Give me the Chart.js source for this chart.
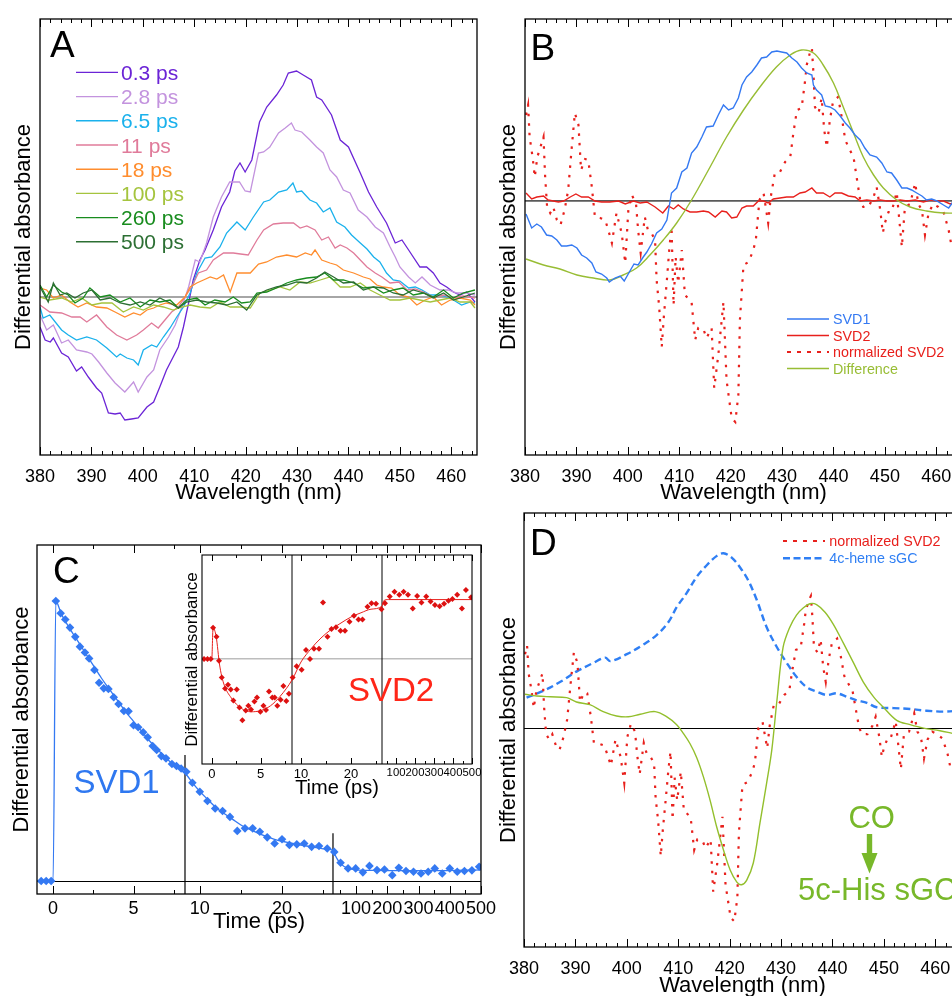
<!DOCTYPE html>
<html>
<head>
<meta charset="utf-8">
<title>Transient absorption spectra and SVD components</title>
<script src="https://cdn.jsdelivr.net/npm/chart.js@4.4.1/dist/chart.umd.min.js"></script>
<style>
  html, body { margin: 0; padding: 0; background: #fff; }
  body { position: relative; width: 952px; height: 996px; overflow: hidden; font-family: "Liberation Sans", Arial, sans-serif; }
  canvas { position: absolute; }
  #overlay { position: absolute; left: 0; top: 0; }
</style>
</head>
<body>
<canvas id="chartA" width="490" height="510" style="left:0px;top:0px"></canvas>
<canvas id="chartB" width="482" height="510" style="left:490px;top:0px"></canvas>
<canvas id="chartC" width="500" height="450" style="left:0px;top:500px"></canvas>
<canvas id="chartCin" width="320" height="260" style="left:170px;top:545px"></canvas>
<canvas id="chartD" width="481" height="500" style="left:490px;top:500px"></canvas>
<svg id="overlay" width="952" height="996" xmlns="http://www.w3.org/2000/svg"></svg>
<script>
// ---- panel A: spectra at different delays [wavelength nm, dA] ----
const spectraLabels = ['0.3 ps', '2.8 ps', '6.5 ps', '11 ps', '18 ps', '100 ps', '260 ps', '500 ps'];

const spec03 = [[380,-0.30],[381,-0.43],[382,-0.45],[382.6,-0.41],[384.2,-0.56],[385.5,-0.60],[387.1,-0.74],[388.1,-0.70],[389.4,-0.80],[391,-0.91],[392,-0.96],[393.3,-1.16],[394.6,-1.17],[395.6,-1.16],[396.5,-1.23],[397.8,-1.22],[399.1,-1.21],[400.8,-1.10],[402.1,-1.05],[403.3,-0.90],[404.6,-0.73],[405.9,-0.60],[406.9,-0.50],[407.9,-0.30],[408.9,-0.06],[409.8,0.17],[411.1,0.37],[412.1,0.47],[413.7,0.67],[415.3,0.90],[416.9,1.05],[417.9,1.26],[418.9,1.34],[419.9,1.25],[421.2,1.37],[422.7,1.75],[424.1,1.90],[426,2.02],[427.3,2.12],[428.3,2.24],[429.9,2.26],[431.2,2.22],[432.8,2.17],[433.8,2.00],[434.8,1.97],[436.7,1.82],[438.4,1.57],[440,1.50],[442.3,1.24],[443.9,1.05],[445.5,0.90],[447.4,0.74],[449.1,0.54],[450.4,0.57],[451.7,0.47],[453.9,0.30],[455.2,0.30],[456.5,0.24],[457.8,0.14],[459.1,0.10],[460.4,0.05],[461.7,0.02],[463,0.05],[464.6,-0.05]];
const spec28 = [[380,-0.18],[381.3,-0.33],[382.6,-0.28],[384.2,-0.46],[385.5,-0.43],[387.1,-0.53],[389.1,-0.55],[390.1,-0.57],[391.4,-0.65],[393,-0.76],[394.6,-0.86],[396.5,-0.95],[398.2,-0.85],[399.1,-0.95],[400.8,-0.80],[402.1,-0.73],[403.3,-0.53],[405,-0.40],[406.3,-0.28],[407.6,-0.10],[408.9,0.10],[410.2,0.37],[411.1,0.35],[412.4,0.54],[413.7,0.80],[415.3,1.00],[416.9,1.15],[418.8,1.15],[419.9,1.06],[420.9,1.05],[422.5,1.44],[423.5,1.45],[424.7,1.50],[426.4,1.64],[427.7,1.69],[428.9,1.74],[429.6,1.67],[430.9,1.65],[432.5,1.57],[433.8,1.50],[435.1,1.44],[436.4,1.27],[437.7,1.20],[439,1.07],[440.3,1.04],[441.9,0.87],[443.6,0.80],[445.2,0.70],[446.8,0.64],[448.1,0.50],[449.1,0.40],[450,0.30],[451.7,0.20],[453,0.14],[454.3,0.20],[455.9,0.12],[457.8,0.07],[459.4,0.07],[461.1,0.04],[463,0.04],[464.6,0.02]];
const spec65 = [[380,-0.10],[380.6,-0.21],[381.9,-0.18],[384.2,-0.33],[385.5,-0.38],[387.1,-0.43],[389.1,-0.40],[391,-0.43],[393,-0.51],[394.9,-0.60],[395.6,-0.57],[396.9,-0.61],[398.2,-0.63],[399.1,-0.68],[400.1,-0.53],[401.7,-0.48],[402.7,-0.50],[404,-0.40],[405.3,-0.31],[406.6,-0.20],[407.9,-0.10],[409.2,0.04],[410.5,0.24],[412.1,0.39],[413.4,0.40],[415,0.50],[416.3,0.64],[418.3,0.75],[419.9,0.67],[421.5,0.80],[423.5,0.95],[424.7,0.97],[426.4,1.05],[428,1.07],[429.2,1.14],[429.9,1.05],[430.9,1.06],[432.5,0.97],[433.8,0.94],[435.1,0.85],[436.4,0.89],[437.7,0.75],[439.3,0.70],[440.6,0.62],[442.3,0.54],[443.6,0.48],[444.9,0.40],[446.1,0.35],[447.4,0.24],[448.7,0.17],[450,0.16],[451.7,0.09],[453,0.10],[454.3,0.07],[455.9,0.02],[457.8,0.02],[459.8,-0.01],[462,-0.08],[463.7,-0.05],[464.6,-0.06]];
const spec11 = [[380,-0.08],[381.9,-0.15],[384.2,-0.16],[386.2,-0.20],[387.8,-0.20],[389.1,-0.25],[391,-0.18],[393,-0.30],[394.9,-0.38],[396.9,-0.43],[398.8,-0.38],[400.1,-0.33],[401.7,-0.26],[403,-0.31],[404.3,-0.23],[405.6,-0.15],[406.9,-0.10],[408.2,0.00],[409.5,0.10],[410.8,0.24],[412.4,0.27],[413.7,0.37],[415.7,0.44],[417.6,0.44],[419,0.43],[420.5,0.42],[422.2,0.57],[423.5,0.67],[425.4,0.73],[427.3,0.74],[429.3,0.74],[430.6,0.69],[431.9,0.71],[433.5,0.67],[434.8,0.57],[436.1,0.60],[437.4,0.49],[438.4,0.52],[439.7,0.49],[441,0.44],[442.3,0.37],[443.6,0.30],[445.2,0.24],[446.5,0.20],[448.1,0.14],[449.8,0.15],[451.4,0.07],[453,0.08],[454.6,0.05],[456.5,0.00],[458.5,0.02],[460.4,-0.01],[462.3,0.01],[464.6,-0.01]];
const spec18 = [[380,0.09],[381.3,0.07],[382.6,-0.01],[384.2,0.02],[385.8,-0.05],[387.4,-0.10],[389.1,-0.06],[391,-0.10],[393,-0.11],[394.6,-0.15],[396.5,-0.20],[398.2,-0.16],[399.5,-0.18],[400.8,-0.13],[402.1,-0.11],[403.3,-0.08],[404.6,-0.06],[406.6,-0.08],[408.2,0.00],[409.2,0.10],[410.5,0.14],[411.8,0.17],[413.1,0.20],[414.4,0.18],[415.7,0.22],[417,0.05],[418.3,0.24],[419.6,0.24],[420.9,0.24],[422.5,0.33],[424.1,0.35],[426,0.40],[428,0.42],[429.9,0.40],[431.6,0.44],[432.8,0.42],[433.5,0.47],[434.8,0.37],[436.4,0.34],[437.7,0.32],[439,0.27],[441,0.24],[442.9,0.20],[444.2,0.18],[445.5,0.12],[446.8,0.10],[448.4,0.09],[450,0.02],[451.7,0.00],[453.3,-0.08],[454.9,-0.03],[456.5,0.00],[458.1,-0.08],[459.8,-0.03],[461.7,-0.01],[463.7,-0.03],[464.6,-0.08]];
const spec100 = [[380,0.00],[381.9,-0.03],[384.2,-0.01],[386.2,-0.05],[388.1,-0.01],[390.1,-0.08],[392,-0.06],[394,-0.06],[396.2,-0.15],[398.2,-0.10],[400.1,-0.13],[402.1,-0.08],[404,-0.10],[405.9,-0.13],[407.6,-0.10],[409.2,-0.08],[411.1,-0.10],[413.1,-0.11],[415,-0.05],[417,-0.10],[418.9,-0.10],[420.9,-0.11],[422.8,0.04],[424.7,0.07],[426.7,0.10],[428.6,0.07],[430.6,0.15],[432.5,0.14],[434.5,0.17],[436.4,0.20],[438.4,0.10],[440.3,0.10],[442.3,0.14],[444.2,0.07],[446.1,0.02],[448.1,-0.03],[450,-0.03],[452,-0.01],[453.9,-0.03],[455.9,-0.05],[457.8,-0.03],[459.8,-0.01],[461.7,-0.05],[463.7,-0.05],[464.6,-0.11]];
const spec260 = [[380,0.12],[381.3,0.00],[382.6,0.12],[384.2,0.05],[385.5,0.02],[386.8,-0.06],[388.4,-0.01],[389.7,0.09],[391.7,0.00],[393.6,0.02],[395.6,-0.05],[397.5,-0.01],[399.5,-0.10],[401.4,-0.03],[403.3,-0.05],[405.3,-0.03],[406.9,-0.11],[408.5,-0.03],[410.5,-0.01],[412.1,-0.08],[414,-0.03],[416,-0.05],[417.6,0.00],[419.2,-0.06],[420.9,-0.05],[422.2,0.04],[424.1,0.05],[426,0.09],[428,0.14],[429.9,0.17],[431.9,0.19],[433.8,0.20],[435.4,0.24],[437.1,0.17],[439,0.17],[441,0.14],[442.9,0.09],[444.9,0.10],[446.8,0.04],[448.7,0.07],[450.6,0.09],[452.6,0.02],[454.6,0.04],[456.5,0.00],[458.5,0.07],[460.4,-0.01],[462.3,0.04],[464.6,0.07]];
const spec500 = [[380,0.10],[381.6,-0.05],[382.6,0.14],[383.9,0.02],[385.2,0.04],[386.8,-0.01],[388.4,0.04],[390.1,0.07],[391.7,-0.03],[393.6,-0.01],[395.6,-0.06],[397.5,-0.08],[399.5,-0.05],[401.4,-0.08],[403.3,-0.01],[405.3,-0.06],[406.9,-0.11],[408.5,-0.05],[410.5,-0.03],[412.4,-0.05],[414.4,-0.06],[416.3,-0.08],[418.3,-0.05],[420.2,-0.13],[422.2,0.02],[424.1,0.07],[426,0.10],[428,0.12],[429.9,0.15],[431.9,0.14],[433.8,0.19],[435.4,0.25],[437.1,0.20],[439,0.14],[441,0.15],[442.9,0.07],[444.9,0.10],[446.8,0.09],[448.7,0.04],[450.6,0.02],[452.6,0.07],[454.6,0.04],[456.5,-0.01],[458.5,0.04],[460.4,-0.03],[462.3,0.00],[464.6,0.04]];

// ---- panel B: SVD components [wavelength nm, dA] ----
const svdLegendB = ['SVD1', 'SVD2', 'normalized SVD2', 'Difference'];
const svd1B = [[380.2,-0.13],[381.3,-0.27],[382.3,-0.23],[383.2,-0.26],[384.2,-0.34],[385.2,-0.35],[386.2,-0.39],[387.1,-0.45],[388.1,-0.45],[389.1,-0.44],[390.1,-0.47],[391,-0.54],[392,-0.57],[393,-0.62],[393.8,-0.71],[394.9,-0.73],[395.9,-0.77],[396.4,-0.81],[397.5,-0.77],[398.5,-0.75],[399.3,-0.80],[400.3,-0.71],[401.2,-0.63],[402,-0.64],[403,-0.56],[403.7,-0.51],[404.6,-0.43],[405.6,-0.32],[406.6,-0.28],[407.6,-0.19],[408.5,0.08],[409.5,0.13],[410.5,0.29],[411.5,0.33],[412.4,0.48],[413.4,0.54],[414.4,0.64],[415.3,0.74],[416.6,0.75],[417.6,0.86],[418.6,0.96],[419.6,0.91],[420.5,0.93],[421.5,1.03],[422.2,1.16],[423.1,1.24],[424.1,1.29],[425.1,1.36],[426,1.43],[427,1.44],[428,1.49],[429,1.50],[429.9,1.49],[430.9,1.48],[431.9,1.43],[432.9,1.39],[433.8,1.33],[434.8,1.28],[435.8,1.26],[436.1,1.16],[436.7,1.11],[437.7,1.06],[438.4,0.95],[439.3,0.94],[440.3,0.91],[441.3,0.85],[442.3,0.78],[443.2,0.73],[444.2,0.66],[445.2,0.61],[446.1,0.53],[447.1,0.46],[448.4,0.44],[449.4,0.38],[450.4,0.29],[451.3,0.28],[452.3,0.21],[453.3,0.13],[454.3,0.13],[455.2,0.11],[456.2,0.08],[457.2,0.05],[458.1,0.01],[459.1,0.02],[460.1,0.00],[461.4,-0.04],[462.4,-0.07],[463.1,-0.02],[464.5,-0.08]];
const svd2B = [[380.2,0.08],[381.3,0.02],[382.3,0.04],[383.6,0.05],[384.5,0.01],[385.5,0.00],[386.5,-0.01],[387.5,0.00],[388.8,0.04],[389.9,0.07],[391,0.04],[392.3,0.04],[393.6,0.00],[394.9,-0.01],[396.5,-0.01],[398.2,0.00],[399.5,-0.03],[401.1,0.00],[402.4,-0.02],[403.7,-0.01],[405.3,-0.06],[406.8,-0.12],[407.9,-0.05],[408.9,-0.08],[409.8,-0.04],[410.8,-0.08],[412.1,-0.11],[413.4,-0.11],[414.7,-0.10],[415.7,-0.11],[417,-0.16],[418.3,-0.10],[419.2,-0.11],[420.2,-0.17],[421.2,-0.16],[422.2,-0.07],[423.1,-0.05],[424.4,-0.05],[425.4,0.00],[426.4,0.00],[427.3,-0.02],[428.3,0.02],[429.6,0.03],[430.9,0.04],[432.2,0.04],[433.5,0.08],[434.5,0.09],[435.8,0.13],[436.7,0.08],[438,0.08],[439.3,0.04],[440.3,0.08],[441.6,0.08],[442.9,0.05],[444.2,0.04],[445.2,0.00],[446.5,0.01],[447.8,0.00],[449.1,0.01],[450.4,0.00],[451.7,0.00],[453,0.01],[454.3,0.00],[455.9,0.01],[457.5,-0.01],[458.8,0.01],[460.1,0.00],[461.4,0.00],[462.7,-0.03],[464.5,0.00]];
const normSvd2 = [[380.2,0.86],[380.6,0.96],[380.9,0.64],[381.5,0.43],[381.9,0.24],[382.4,0.44],[383,0.54],[383.6,0.64],[383.9,0.26],[384.3,-0.06],[384.9,-0.12],[385.5,-0.06],[386.2,-0.19],[386.9,-0.24],[387.7,-0.09],[388.4,0.11],[389.1,0.54],[389.7,0.88],[390.4,0.76],[390.9,0.31],[391.7,0.42],[392.3,0.41],[393,0.14],[393.6,-0.16],[394.6,-0.17],[395.6,-0.19],[396.2,-0.29],[396.9,-0.42],[397.8,-0.12],[398.8,-0.32],[399.5,-0.62],[400.1,-0.09],[400.8,0.06],[401.6,-0.03],[402,-0.29],[402.5,-0.52],[403.3,-0.16],[403.9,-0.29],[404.6,-0.32],[405.3,-0.39],[405.6,-0.79],[406.1,-1.06],[406.6,-1.46],[407,-1.16],[407.6,-0.79],[408.1,-0.46],[408.5,-0.26],[408.9,-1.04],[409.3,-0.56],[409.8,-0.82],[410.5,-0.49],[411.1,-0.94],[412.4,-1.01],[413.1,-1.39],[413.7,-1.27],[414.7,-1.28],[415.3,-1.37],[416.3,-1.27],[416.8,-1.87],[417.6,-1.54],[418.6,-1.01],[419.2,-1.79],[420.2,-2.17],[420.9,-2.21],[421.5,-1.94],[421.8,-1.19],[422.5,-0.64],[423.5,-0.61],[424.4,-0.49],[424.9,-0.39],[425.6,0.01],[426.4,0.08],[427.3,-0.22],[427.8,0.04],[428.6,0.28],[429.6,0.29],[430.6,0.39],[431.6,0.44],[432.2,0.68],[432.9,0.91],[433.8,0.93],[434.5,1.21],[434.8,1.36],[435.4,1.48],[435.8,1.53],[436.1,1.28],[436.4,0.94],[437.1,0.88],[437.7,1.03],[438.2,0.71],[438.7,0.54],[439.3,0.81],[439.9,0.99],[440.9,1.04],[441.6,0.84],[442.3,0.61],[442.9,0.54],[443.9,0.44],[444.5,0.24],[445.2,0.01],[445.8,-0.06],[446.8,-0.06],[447.8,0.04],[448.4,0.14],[449.1,-0.09],[449.6,-0.32],[450,-0.22],[450.7,-0.11],[451.3,-0.11],[452.3,0.09],[453.3,-0.46],[453.9,-0.06],[454.9,-0.03],[455.9,0.18],[456.5,-0.03],[457.2,-0.09],[457.8,-0.34],[458.5,-0.12],[459.4,-0.03],[460.4,-0.06],[461.4,-0.11],[462.4,-0.29],[463,-0.46]];
const diffB = [[380.2,-0.58],[383.6,-0.64],[386.8,-0.68],[390.1,-0.74],[393.3,-0.77],[396.5,-0.79],[399.1,-0.74],[401.7,-0.67],[404.3,-0.54],[406.9,-0.39],[409.5,-0.22],[412.4,0.01],[416,0.34],[419.2,0.64],[422.5,0.91],[425.7,1.14],[428.9,1.34],[431.6,1.46],[433.8,1.51],[436.1,1.48],[438,1.36],[440,1.18],[441.9,0.94],[443.9,0.68],[445.8,0.44],[447.8,0.26],[449.7,0.13],[452.3,0.01],[454.9,-0.06],[458.1,-0.10],[461.4,-0.12],[464.5,-0.12]];

// ---- panel C: kinetics [time ps, amplitude] ----
const timeTicks = [0, 2.5, 5, 7.5, 10, 15, 20, 25, 50, 100, 150, 200, 250, 300, 350, 400, 450, 500];
const timeLabels = [0, 5, 10, 20, 100, 200, 300, 400, 500];
const timeBreaks = [-1, 8.2, 26.2, 500];
const svd1Pts = [[-0.74,0],[-0.43,0],[-0.12,0],[0.17,1.0],[0.47,0.956],[0.76,0.934],[1.05,0.905],[1.38,0.872],[1.67,0.837],[1.98,0.816],[2.24,0.795],[2.57,0.754],[2.86,0.708],[3.15,0.688],[3.44,0.686],[3.77,0.656],[4.07,0.632],[4.4,0.607],[4.69,0.606],[5,0.556],[5.29,0.549],[5.6,0.531],[5.88,0.513],[6.19,0.482],[6.44,0.468],[6.73,0.446],[7.02,0.438],[7.39,0.418],[7.67,0.411],[7.96,0.402],[8.36,0.39],[9.1,0.351],[10,0.319],[10.93,0.286],[11.87,0.259],[12.77,0.25],[13.67,0.229],[14.56,0.179],[15.5,0.188],[16.43,0.188],[17.3,0.176],[18.2,0.156],[19.1,0.134],[20,0.149],[20.9,0.129],[21.8,0.131],[22.7,0.134],[23.6,0.122],[24.5,0.125],[25.5,0.116],[30.3,0.104],[50.5,0.065],[74.5,0.045],[98.8,0.045],[121.9,0.031],[143,0.054],[167,0.039],[191,0.041],[216,0.021],[237,0.047],[260,0.036],[284,0.033],[308,0.027],[331,0.033],[352,0.045],[376,0.027],[400,0.045],[424,0.033],[447,0.036],[471,0.038],[494,0.051]];
const svd1Fit = [[-1,0],[0,0],[0.17,1.0],[0.5,0.955],[1,0.905],[1.5,0.86],[2,0.815],[2.5,0.77],[3,0.725],[3.5,0.685],[4,0.645],[4.5,0.605],[5,0.57],[5.5,0.535],[6,0.5],[6.5,0.47],[7,0.44],[7.5,0.415],[8,0.395],[8.5,0.375],[9,0.355],[10,0.32],[11,0.29],[12,0.262],[13,0.24],[14,0.22],[15,0.2],[16,0.185],[17,0.172],[18,0.16],[19,0.15],[20,0.142],[21,0.136],[22,0.13],[23,0.125],[24,0.12],[25,0.115],[26.2,0.11],[30,0.1],[40,0.078],[50,0.062],[75,0.045],[100,0.04],[150,0.038],[250,0.037],[350,0.037],[500,0.04]];
const breakLineC1 = [[8.2,-0.1],[8.2,0.45]];
const breakLineC2 = [[26.2,-0.1],[26.2,0.171]];
const svd2Pts = [[-0.79,0],[-0.44,0],[-0.1,0],[0.13,0.52],[0.48,0.37],[0.74,-0.03],[1.02,-0.31],[1.36,-0.49],[1.66,-0.43],[1.94,-0.51],[2.21,-0.69],[2.55,-0.51],[2.83,-0.81],[3.13,-1.02],[3.47,-0.86],[3.74,-0.78],[4.01,-0.84],[4.36,-0.71],[4.62,-0.64],[4.97,-0.88],[5.28,-0.78],[5.54,-0.85],[5.85,-0.54],[6.19,-0.64],[6.43,-0.64],[6.7,-0.78],[7.04,-0.68],[7.32,-0.45],[7.62,-0.7],[7.89,-0.58],[8.33,-0.31],[9.13,-0.12],[10.13,-0.18],[11,0.15],[11.8,0],[12.6,0.17],[13.6,0.17],[14.4,0.94],[15.3,0.37],[16.1,0.5],[17,0.53],[17.9,0.47],[18.8,0.47],[19.7,0.62],[20.6,0.72],[21.5,0.66],[22.3,0.66],[23.3,0.87],[24.1,0.93],[25,0.92],[26.1,0.83],[42,0.93],[67,1.04],[92,1.12],[117,1.07],[140,1.12],[163,1.07],[188,0.84],[211,1.05],[234,0.94],[259,1.04],[282,0.96],[305,0.9],[330,0.88],[353,0.92],[376,0.97],[397,1.0],[422,1.07],[447,0.84],[468,1.15],[495,1.03]];
const svd2Fit = [[-1,0],[0,0],[0.13,0.52],[0.45,0.37],[0.8,-0.1],[1.2,-0.4],[2,-0.65],[3,-0.82],[4,-0.88],[5,-0.86],[6,-0.78],[7,-0.62],[8.2,-0.35],[10,-0.05],[12,0.17],[14,0.35],[16,0.49],[18,0.6],[20,0.7],[22,0.77],[24,0.83],[26.2,0.88],[35,0.97],[60,0.99],[500,0.99]];
const breakLineIn1 = [[8.2,-2],[8.2,2]];
const breakLineIn2 = [[26.2,-2],[26.2,2]];

// ---- panel D: comparison [wavelength nm, dA] ----
const legendD = ['normalized SVD2', '4c-heme sGC'];
const hemeD = [[380.5,0.36],[383.8,0.44],[387,0.54],[390.2,0.66],[393.5,0.76],[395.8,0.82],[396.8,0.78],[400,0.86],[403.2,0.97],[405.8,1.08],[408.1,1.23],[409.7,1.40],[411.6,1.56],[413.6,1.75],[415.5,1.88],[417.5,1.99],[418.8,2.02],[420.4,1.97],[422,1.86],[423.6,1.71],[425.3,1.48],[427.2,1.17],[429.2,0.94],[431.1,0.76],[433,0.60],[435,0.48],[436.9,0.43],[438.9,0.39],[440.8,0.41],[442.8,0.37],[444.7,0.33],[446.7,0.30],[448.6,0.25],[451.9,0.24],[455.1,0.23],[458.3,0.21],[461.6,0.20],[464.5,0.21]];
const diffD = [[380.2,0.40],[382.5,0.38],[385.1,0.37],[388.3,0.36],[390.2,0.31],[392.8,0.28],[395.4,0.20],[398,0.15],[400.3,0.14],[402.6,0.17],[405.5,0.20],[407.8,0.14],[409.7,0.05],[411,-0.05],[412.3,-0.17],[413.6,-0.33],[414.9,-0.55],[416.2,-0.82],[417.5,-1.13],[418.8,-1.39],[420.1,-1.62],[421.4,-1.76],[422.3,-1.79],[423.3,-1.74],[424.6,-1.54],[425.9,-1.08],[427.2,-0.62],[428.2,-0.24],[429.2,0.33],[430.4,0.94],[431.7,1.17],[433,1.31],[434.3,1.39],[435.6,1.44],[436.9,1.43],[438.6,1.34],[440.2,1.20],[442.1,0.99],[444.1,0.76],[446,0.54],[448,0.37],[449.9,0.25],[452.5,0.10],[455.1,0.05],[457.7,0.01],[460.9,-0.02],[463.3,-0.05]];

// ---- styling ----
const FONT = '"Liberation Sans", Arial, sans-serif';
const spectraColors = ['#6b24d6', '#c393de', '#1ab1ec', '#e07b9a', '#ff8d2e', '#a5c43e', '#188c1e', '#2c6f33'];
const BLUE = '#3479f2';
const RED = '#e8201c';
const GREEN = '#98bd34';
const DOTS = [2.5, 7];

Chart.defaults.font.family = FONT;
Chart.defaults.color = '#000';

// piecewise linear time axis: every segment between breaks gets the same width
class BrokenScale extends Chart.LinearScale {
  buildTicks() {
    return this.options.tickValues.map(value => ({ value }));
  }
  toDecimal(value) {
    const b = this.options.breaks;
    const n = b.length - 1;
    let i = 0;
    while (i < n - 1 && value > b[i + 1]) i++;
    return (i + (value - b[i]) / (b[i + 1] - b[i])) / n;
  }
  getPixelForValue(value) {
    return value === null || value === undefined ? NaN : this.getPixelForDecimal(this.toDecimal(value));
  }
}
BrokenScale.id = 'broken';
BrokenScale.defaults = {};
Chart.register(BrokenScale);

// box around the plot with inward tick marks on top and bottom
const framePlugin = {
  id: 'frame',
  afterDatasetsDraw(chart, args, opts) {
    const { ctx, chartArea: a } = chart;
    const x = chart.scales.x;
    ctx.save();
    ctx.strokeStyle = '#000';
    ctx.lineWidth = opts.lineWidth;
    ctx.strokeRect(a.left, a.top, a.right - a.left, a.bottom - a.top);
    ctx.lineWidth = 1;
    ctx.beginPath();
    x.ticks.forEach(t => {
      const px = Math.round(x.getPixelForValue(t.value)) + 0.5;
      const len = t.label === '' ? opts.minor : opts.major;
      ctx.moveTo(px, a.bottom);
      ctx.lineTo(px, a.bottom - len);
      ctx.moveTo(px, a.top);
      ctx.lineTo(px, a.top + len);
    });
    ctx.stroke();
    ctx.restore();
  }
};

const toXY = arr => arr.map(([x, y]) => ({ x, y }));

function lineSet(data, color, width, extra) {
  return Object.assign({
    data: toXY(data), borderColor: color, borderWidth: width,
    pointRadius: 0, fill: false, tension: 0
  }, extra || {});
}

function wavelengthAxis(height, tickPad, titlePad) {
  return {
    type: 'linear', min: 380, max: 465,
    ticks: {
      stepSize: 2, includeBounds: false, autoSkip: false, maxRotation: 0,
      padding: tickPad, font: { size: 18 },
      callback: v => (v % 10 === 0 ? String(v) : '')
    },
    grid: { display: false, drawTicks: false },
    border: { display: false },
    title: { display: true, text: 'Wavelength (nm)', font: { size: 22 }, padding: { top: 0, bottom: titlePad } },
    afterFit: s => { s.height = height; }
  };
}

function timeAxis(height, tickPad, titlePad, titleSize, tickFont) {
  return {
    type: 'broken', min: timeBreaks[0], max: timeBreaks[timeBreaks.length - 1],
    breaks: timeBreaks, tickValues: timeTicks,
    ticks: {
      autoSkip: false, maxRotation: 0, padding: tickPad, font: tickFont,
      callback: v => (timeLabels.includes(v) ? String(v) : '')
    },
    grid: { display: false, drawTicks: false },
    border: { display: false },
    title: { display: true, text: 'Time (ps)', font: { size: titleSize }, padding: { top: 0, bottom: titlePad } },
    afterFit: s => { s.height = height; }
  };
}

function absorbanceAxis(min, max, width, titlePad, titleSize, zeroColor, zeroWidth) {
  return {
    type: 'linear', min, max,
    afterBuildTicks: s => { s.ticks = [{ value: 0 }]; },
    ticks: { display: false },
    grid: { color: zeroColor, lineWidth: zeroWidth, drawTicks: false },
    border: { display: false },
    title: { display: true, text: 'Differential absorbance', font: { size: titleSize }, padding: { top: titlePad, bottom: 0 } },
    afterFit: s => { s.width = width; }
  };
}

function makeChart(id, datasets, x, y, padding, frame) {
  return new Chart(document.getElementById(id), {
    type: 'line',
    data: { datasets },
    options: {
      responsive: false, animation: false, events: [],
      layout: { padding },
      plugins: { legend: { display: false }, tooltip: { enabled: false }, frame },
      scales: { x, y }
    },
    plugins: [framePlugin]
  });
}

// A
const spectra = [spec03, spec28, spec65, spec11, spec18, spec100, spec260, spec500];
makeChart('chartA',
  spectra.map((s, i) => lineSet(s, spectraColors[i], 1.3)).reverse(),
  wavelengthAxis(55, 11, 3.6),
  absorbanceAxis(-1.58, 2.78, 40, 11, 22, '#a6a6a6', 2),
  { top: 19, right: 13, left: 0, bottom: 0 },
  { lineWidth: 1.3, major: 8, minor: 4 });

// B
makeChart('chartB', [
  lineSet(svd1B, BLUE, 1.4),
  lineSet(diffB, GREEN, 1.4, { tension: 0.4 }),
  lineSet(svd2B, RED, 1.4),
  lineSet(normSvd2, RED, 2.2, { borderDash: DOTS })
],
  wavelengthAxis(55, 11, 3.6),
  absorbanceAxis(-2.54, 1.82, 35, 5.8, 22, '#5a5a5a', 1.8),
  { top: 19, right: 10, left: 0, bottom: 0 },
  { lineWidth: 1.3, major: 8, minor: 4 });

// C main
makeChart('chartC', [
  lineSet(svd1Pts, BLUE, 0, { showLine: false, pointStyle: 'rectRot', pointRadius: 4.3, pointBackgroundColor: BLUE, pointBorderWidth: 0 }),
  lineSet(svd1Fit, BLUE, 1.3, { cubicInterpolationMode: 'monotone' }),
  lineSet(breakLineC1, '#000', 1.2),
  lineSet(breakLineC2, '#000', 1.2)
],
  timeAxis(56, 4, 14.8, 22, { size: 18 }),
  absorbanceAxis(-0.0464, 1.2, 37, 8.5, 22, '#000', 1),
  { top: 45, right: 17, left: 0, bottom: 0 },
  { lineWidth: 1.3, major: 8, minor: 4 });

// C inset
makeChart('chartCin', [
  lineSet(svd2Pts, RED, 0, { showLine: false, pointStyle: 'rectRot', pointRadius: 3, pointBackgroundColor: '#dd1111', pointBorderWidth: 0 }),
  lineSet(svd2Fit, RED, 1, { cubicInterpolationMode: 'monotone' }),
  lineSet(breakLineIn1, '#000', 1),
  lineSet(breakLineIn2, '#000', 1)
],
  timeAxis(41, 2.4, 5, 20, c => ({ size: c.tick && c.tick.value >= 100 ? 11.3 : 13 })),
  absorbanceAxis(-1.75, 1.733, 32, 12.3, 17, '#bdbdbd', 1.6),
  { top: 10, right: 18, left: 0, bottom: 0 },
  { lineWidth: 1.1, major: 6, minor: 3 });

// D
makeChart('chartD', [
  lineSet(diffD, '#93bf2c', 1.4, { tension: 0.35 }),
  lineSet(normSvd2, RED, 2.2, { borderDash: DOTS }),
  lineSet(hemeD, '#2f7ff4', 2.4, { borderDash: [7, 4], tension: 0.35 })
],
  wavelengthAxis(53, 11.2, 0.8),
  absorbanceAxis(-2.506, 2.483, 34, 5.8, 22, '#000', 1),
  { top: 13, right: 10, left: 0, bottom: 0 },
  { lineWidth: 1.3, major: 8, minor: 4 });

// ---- text overlay: panel letters, legends, annotations ----
const svg = document.getElementById('overlay');
const NS = 'http://www.w3.org/2000/svg';
function addText(str, x, y, size, color, anchor) {
  const t = document.createElementNS(NS, 'text');
  t.setAttribute('x', x);
  t.setAttribute('y', y);
  t.setAttribute('font-size', size);
  t.setAttribute('font-family', FONT);
  t.setAttribute('fill', color);
  if (anchor) t.setAttribute('text-anchor', anchor);
  t.textContent = str;
  svg.appendChild(t);
}
function addLine(x1, y1, x2, y2, color, width, dash) {
  const l = document.createElementNS(NS, 'line');
  l.setAttribute('x1', x1); l.setAttribute('y1', y1);
  l.setAttribute('x2', x2); l.setAttribute('y2', y2);
  l.setAttribute('stroke', color);
  l.setAttribute('stroke-width', width);
  if (dash) l.setAttribute('stroke-dasharray', dash);
  svg.appendChild(l);
}

addText('A', 50, 56.7, 37, '#000');
addText('B', 530.6, 60, 37, '#000');
addText('C', 53, 583, 37, '#000');
addText('D', 530, 555, 37, '#000');

spectraLabels.forEach((name, i) => {
  const base = 80 + i * 24.2;
  addLine(76, base - 7.6, 118, base - 7.6, spectraColors[i], 1.4);
  addText(name, 121, base, 21, spectraColors[i]);
});

const legendBStyle = [[BLUE, 1.4, null], [RED, 1.4, null], [RED, 2.2, '4 6'], [GREEN, 1.4, null]];
svdLegendB.forEach((name, i) => {
  const base = 324 + i * 16.5;
  const [c, w, d] = legendBStyle[i];
  addLine(787, base - 5, 829, base - 5, c, w, d);
  addText(name, 833, base, 14.3, c);
});

const legendDStyle = [[RED, 2.2, '4 6'], ['#2f7ff4', 2.4, '7 3.5']];
legendD.forEach((name, i) => {
  const base = 546 + i * 17.3;
  const [c, w, d] = legendDStyle[i];
  addLine(783, base - 5, 825, base - 5, c, w, d);
  addText(name, 829.3, base, 14.3, c);
});

addText('SVD1', 73.5, 793.3, 33, '#2f78f0');
addText('SVD2', 348, 700.7, 33, '#ff2618');

const ARROW = '#78b82a';
addText('CO', 871.7, 828.3, 31, ARROW, 'middle');
addText('5c-His sGC', 798, 900, 31, ARROW);
const shaft = document.createElementNS(NS, 'rect');
shaft.setAttribute('x', 866.8); shaft.setAttribute('y', 834);
shaft.setAttribute('width', 5.4); shaft.setAttribute('height', 20);
shaft.setAttribute('fill', ARROW);
svg.appendChild(shaft);
const head = document.createElementNS(NS, 'polygon');
head.setAttribute('points', '861.5,853 877.5,853 869.5,873.5');
head.setAttribute('fill', ARROW);
svg.appendChild(head);
</script>
</body>
</html>
